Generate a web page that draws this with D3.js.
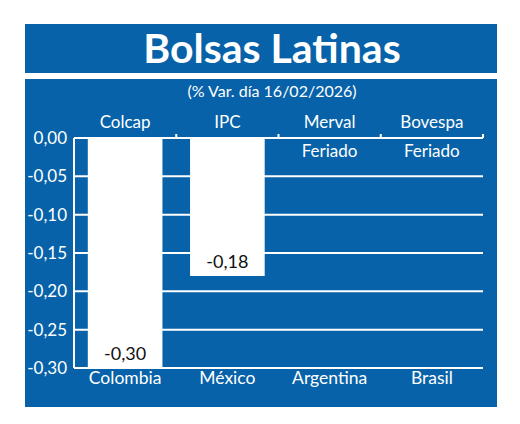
<!DOCTYPE html>
<html>
<head>
<meta charset="utf-8">
<script src="https://cdn.jsdelivr.net/npm/d3@7"></script>
<style>
  body { margin: 0; background: #fff; }
  text { font-family: Lato, "Open Sans", sans-serif; }
</style>
</head>
<body>
<svg id="chart" width="520" height="424"></svg>
<script>
// Data
const indices = ["Colcap", "IPC", "Merval", "Bovespa"];
const countries = ["Colombia", "México", "Argentina", "Brasil"];
const values = [-0.30, -0.18, null, null];
const notes = ["", "", "Feriado", "Feriado"];
const yTicks = [0, -0.05, -0.10, -0.15, -0.20, -0.25, -0.30];

const blue = "#0762a9";
const svg = d3.select("#chart");

// boxes
svg.append("rect").attr("x", 25).attr("y", 24).attr("width", 472).attr("height", 49).attr("fill", blue);
svg.append("rect").attr("x", 25).attr("y", 79).attr("width", 472).attr("height", 328).attr("fill", blue);

svg.append("text")
  .attr("x", 272).attr("y", 63)
  .attr("text-anchor", "middle")
  .style("font-size", "41px").style("font-weight", "bold").style("fill", "#fff")
  .text("Bolsas Latinas");

svg.append("text")
  .attr("x", 272).attr("y", 97)
  .attr("text-anchor", "middle")
  .style("font-size", "16px").style("fill", "#fff")
  .text("(% Var. día 16/02/2026)");

// scales
const x = d3.scaleBand()
  .domain(indices)
  .range([74, 483])
  .paddingInner(0.27)
  .paddingOuter(0.135);

const y = d3.scaleLinear()
  .domain([0, -0.30])
  .range([138, 368]);

const fmt = v => d3.format(".2f")(v).replace(".", ",").replace("−", "-");

// gridlines + y labels
svg.selectAll(".grid")
  .data(yTicks)
  .enter().append("line")
  .attr("x1", 74).attr("x2", 483)
  .attr("y1", d => y(d)).attr("y2", d => y(d))
  .attr("stroke", "#fff").attr("stroke-width", 2);

svg.selectAll(".ylab")
  .data(yTicks)
  .enter().append("text")
  .attr("x", 67).attr("y", d => y(d))
  .attr("dy", "0.35em")
  .attr("text-anchor", "end")
  .style("font-size", "17px").style("fill", "#fff")
  .text(d => fmt(d));

// left axis line
svg.append("line")
  .attr("x1", 74).attr("x2", 74)
  .attr("y1", y(0)).attr("y2", y(-0.30))
  .attr("stroke", "#fff").attr("stroke-width", 2);

// ticks on top at band boundaries
const half = x.step() * x.paddingInner() / 2;
svg.selectAll(".tick")
  .data(indices)
  .enter().append("line")
  .attr("x1", d => x(d) + x.bandwidth() + half)
  .attr("x2", d => x(d) + x.bandwidth() + half)
  .attr("y1", y(0)).attr("y2", y(0) - 4)
  .attr("stroke", "#fff").attr("stroke-width", 2);

// bars
const rows = indices.map((k, i) => ({ key: k, country: countries[i], value: values[i], note: notes[i] }));

svg.selectAll(".bar")
  .data(rows.filter(d => d.value !== null))
  .enter().append("rect")
  .attr("x", d => x(d.key))
  .attr("y", y(0))
  .attr("width", x.bandwidth())
  .attr("height", d => y(d.value) - y(0))
  .attr("fill", "#fff");

svg.selectAll(".val")
  .data(rows.filter(d => d.value !== null))
  .enter().append("text")
  .attr("x", d => x(d.key) + x.bandwidth() / 2)
  .attr("y", d => y(d.value) - 8)
  .attr("text-anchor", "middle")
  .style("font-size", "18px").style("fill", "#111")
  .text(d => fmt(d.value));

// top category labels
svg.selectAll(".top")
  .data(rows)
  .enter().append("text")
  .attr("x", d => x(d.key) + x.bandwidth() / 2)
  .attr("y", 128)
  .attr("text-anchor", "middle")
  .style("font-size", "17px").style("fill", "#fff")
  .text(d => d.key);

svg.selectAll(".note")
  .data(rows.filter(d => d.note))
  .enter().append("text")
  .attr("x", d => x(d.key) + x.bandwidth() / 2)
  .attr("y", 157)
  .attr("text-anchor", "middle")
  .style("font-size", "17px").style("fill", "#fff")
  .text(d => d.note);

// bottom country labels
svg.selectAll(".bottom")
  .data(rows)
  .enter().append("text")
  .attr("x", d => x(d.key) + x.bandwidth() / 2)
  .attr("y", 384)
  .attr("text-anchor", "middle")
  .style("font-size", "17.5px").style("fill", "#fff")
  .text(d => d.country);
</script>
</body>
</html>
